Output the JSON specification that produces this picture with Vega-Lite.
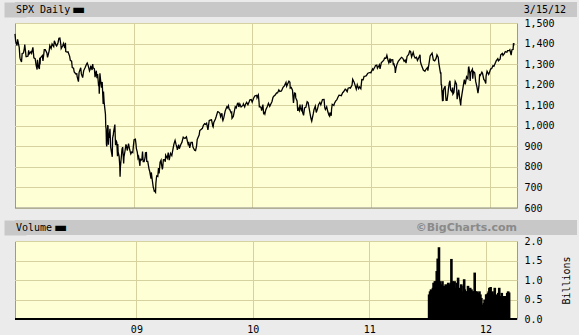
{
  "$schema": "https://vega.github.io/schema/vega-lite/v6.json",
  "background": "#ebebeb",
  "padding": {"left": 3, "top": 2, "right": 3, "bottom": 0},
  "spacing": 0,
  "config": {
    "font": "DejaVu Sans Mono",
    "axis": {"labelFont": "DejaVu Sans Mono", "labelFontSize": 10, "labelColor": "#000000", "titleFont": "DejaVu Sans Mono", "titleFontSize": 10, "titleFontWeight": "normal", "titleColor": "#000000", "gridColor": "#d6d2a0", "gridOpacity": 1, "gridWidth": 1},
    "view": {"stroke": "#9a9a9a", "fill": "#ffffd6"},
    "concat": {"spacing": 0}
  },
  "datasets": {
    "prices": [
      {"d":"2008-01-02","c":1447.2},{"d":"2008-01-04","c":1411.6},{"d":"2008-01-08","c":1390.2},{"d":"2008-01-10","c":1420.3},{"d":"2008-01-15","c":1380.9},{"d":"2008-01-17","c":1333.3},{"d":"2008-01-18","c":1325.2},{"d":"2008-01-22","c":1310.5},{"d":"2008-01-24","c":1352.1},{"d":"2008-01-28","c":1354.0},{"d":"2008-01-31","c":1378.6},{"d":"2008-02-01","c":1395.4},{"d":"2008-02-05","c":1336.6},{"d":"2008-02-07","c":1336.9},{"d":"2008-02-11","c":1339.1},{"d":"2008-02-13","c":1367.2},{"d":"2008-02-15","c":1350.0},{"d":"2008-02-20","c":1360.0},{"d":"2008-02-22","c":1353.1},{"d":"2008-02-26","c":1381.3},{"d":"2008-02-29","c":1330.6},{"d":"2008-03-04","c":1326.8},{"d":"2008-03-07","c":1293.4},{"d":"2008-03-10","c":1273.4},{"d":"2008-03-11","c":1320.7},{"d":"2008-03-14","c":1288.1},{"d":"2008-03-17","c":1276.6},{"d":"2008-03-18","c":1330.7},{"d":"2008-03-19","c":1298.4},{"d":"2008-03-20","c":1330.0},{"d":"2008-03-26","c":1341.1},{"d":"2008-03-28","c":1315.2},{"d":"2008-04-01","c":1370.2},{"d":"2008-04-04","c":1370.4},{"d":"2008-04-09","c":1354.5},{"d":"2008-04-11","c":1332.8},{"d":"2008-04-16","c":1364.7},{"d":"2008-04-18","c":1390.3},{"d":"2008-04-22","c":1375.9},{"d":"2008-04-25","c":1397.8},{"d":"2008-04-30","c":1385.6},{"d":"2008-05-02","c":1413.9},{"d":"2008-05-07","c":1392.6},{"d":"2008-05-09","c":1388.3},{"d":"2008-05-13","c":1403.0},{"d":"2008-05-16","c":1425.4},{"d":"2008-05-19","c":1426.6},{"d":"2008-05-22","c":1394.4},{"d":"2008-05-23","c":1375.9},{"d":"2008-05-28","c":1390.8},{"d":"2008-05-30","c":1400.4},{"d":"2008-06-03","c":1377.6},{"d":"2008-06-05","c":1404.1},{"d":"2008-06-06","c":1360.7},{"d":"2008-06-10","c":1358.4},{"d":"2008-06-13","c":1360.0},{"d":"2008-06-18","c":1337.8},{"d":"2008-06-20","c":1317.9},{"d":"2008-06-24","c":1314.3},{"d":"2008-06-26","c":1283.2},{"d":"2008-06-30","c":1280.0},{"d":"2008-07-02","c":1261.5},{"d":"2008-07-07","c":1252.3},{"d":"2008-07-10","c":1253.4},{"d":"2008-07-11","c":1239.5},{"d":"2008-07-15","c":1214.9},{"d":"2008-07-17","c":1260.3},{"d":"2008-07-22","c":1282.2},{"d":"2008-07-24","c":1252.5},{"d":"2008-07-28","c":1234.4},{"d":"2008-07-31","c":1267.4},{"d":"2008-08-05","c":1284.9},{"d":"2008-08-08","c":1296.3},{"d":"2008-08-11","c":1305.3},{"d":"2008-08-14","c":1292.9},{"d":"2008-08-18","c":1266.7},{"d":"2008-08-20","c":1274.5},{"d":"2008-08-22","c":1292.2},{"d":"2008-08-26","c":1271.5},{"d":"2008-08-28","c":1300.7},{"d":"2008-08-29","c":1282.8},{"d":"2008-09-02","c":1277.6},{"d":"2008-09-04","c":1236.8},{"d":"2008-09-08","c":1267.8},{"d":"2008-09-10","c":1232.0},{"d":"2008-09-12","c":1251.7},{"d":"2008-09-15","c":1192.7},{"d":"2008-09-16","c":1213.6},{"d":"2008-09-17","c":1156.4},{"d":"2008-09-18","c":1206.5},{"d":"2008-09-19","c":1255.1},{"d":"2008-09-22","c":1207.1},{"d":"2008-09-24","c":1185.9},{"d":"2008-09-26","c":1213.3},{"d":"2008-09-29","c":1106.4},{"d":"2008-09-30","c":1166.4},{"d":"2008-10-02","c":1114.3},{"d":"2008-10-03","c":1099.2},{"d":"2008-10-06","c":1056.9},{"d":"2008-10-07","c":996.2},{"d":"2008-10-08","c":984.9},{"d":"2008-10-09","c":909.9},{"d":"2008-10-10","c":899.2},{"d":"2008-10-13","c":1003.4},{"d":"2008-10-14","c":998.0},{"d":"2008-10-15","c":907.8},{"d":"2008-10-16","c":946.4},{"d":"2008-10-17","c":940.6},{"d":"2008-10-20","c":985.4},{"d":"2008-10-22","c":896.8},{"d":"2008-10-24","c":876.8},{"d":"2008-10-27","c":848.9},{"d":"2008-10-28","c":940.5},{"d":"2008-10-30","c":954.1},{"d":"2008-10-31","c":968.8},{"d":"2008-11-04","c":1005.8},{"d":"2008-11-05","c":952.8},{"d":"2008-11-06","c":904.9},{"d":"2008-11-07","c":931.0},{"d":"2008-11-10","c":919.2},{"d":"2008-11-12","c":852.3},{"d":"2008-11-13","c":911.3},{"d":"2008-11-14","c":873.3},{"d":"2008-11-17","c":850.8},{"d":"2008-11-19","c":806.6},{"d":"2008-11-20","c":752.4},{"d":"2008-11-21","c":800.0},{"d":"2008-11-24","c":851.8},{"d":"2008-11-26","c":887.7},{"d":"2008-11-28","c":896.2},{"d":"2008-12-01","c":816.2},{"d":"2008-12-02","c":848.8},{"d":"2008-12-05","c":876.1},{"d":"2008-12-08","c":909.7},{"d":"2008-12-10","c":899.2},{"d":"2008-12-12","c":879.7},{"d":"2008-12-16","c":913.2},{"d":"2008-12-19","c":887.9},{"d":"2008-12-23","c":863.2},{"d":"2008-12-26","c":872.8},{"d":"2008-12-29","c":869.4},{"d":"2008-12-31","c":903.3},
      {"d":"2009-01-02","c":931.8},{"d":"2009-01-06","c":934.7},{"d":"2009-01-08","c":909.7},{"d":"2009-01-09","c":890.4},{"d":"2009-01-12","c":870.3},{"d":"2009-01-14","c":842.6},{"d":"2009-01-16","c":850.1},{"d":"2009-01-20","c":805.2},{"d":"2009-01-21","c":840.2},{"d":"2009-01-23","c":832.0},{"d":"2009-01-26","c":836.6},{"d":"2009-01-28","c":874.1},{"d":"2009-01-30","c":825.9},{"d":"2009-02-02","c":825.4},{"d":"2009-02-05","c":845.9},{"d":"2009-02-06","c":868.6},{"d":"2009-02-09","c":869.9},{"d":"2009-02-10","c":827.2},{"d":"2009-02-13","c":826.8},{"d":"2009-02-17","c":789.2},{"d":"2009-02-19","c":778.9},{"d":"2009-02-20","c":770.1},{"d":"2009-02-23","c":743.3},{"d":"2009-02-24","c":773.1},{"d":"2009-02-27","c":735.1},{"d":"2009-03-02","c":700.8},{"d":"2009-03-03","c":696.3},{"d":"2009-03-05","c":682.6},{"d":"2009-03-06","c":683.4},{"d":"2009-03-09","c":676.5},{"d":"2009-03-10","c":719.6},{"d":"2009-03-12","c":750.7},{"d":"2009-03-13","c":756.6},{"d":"2009-03-16","c":753.9},{"d":"2009-03-18","c":794.4},{"d":"2009-03-20","c":768.5},{"d":"2009-03-23","c":822.9},{"d":"2009-03-26","c":832.9},{"d":"2009-03-27","c":815.9},{"d":"2009-03-30","c":787.5},{"d":"2009-03-31","c":797.9},{"d":"2009-04-02","c":834.4},{"d":"2009-04-06","c":835.5},{"d":"2009-04-08","c":825.2},{"d":"2009-04-09","c":856.6},{"d":"2009-04-14","c":841.5},{"d":"2009-04-17","c":869.6},{"d":"2009-04-20","c":832.4},{"d":"2009-04-24","c":866.2},{"d":"2009-04-28","c":855.2},{"d":"2009-04-30","c":872.8},{"d":"2009-05-04","c":907.2},{"d":"2009-05-06","c":919.5},{"d":"2009-05-08","c":929.2},{"d":"2009-05-11","c":909.2},{"d":"2009-05-14","c":893.1},{"d":"2009-05-15","c":882.9},{"d":"2009-05-19","c":908.1},{"d":"2009-05-21","c":888.3},{"d":"2009-05-26","c":910.3},{"d":"2009-05-29","c":919.1},{"d":"2009-06-02","c":944.7},{"d":"2009-06-05","c":940.1},{"d":"2009-06-08","c":939.1},{"d":"2009-06-12","c":946.2},{"d":"2009-06-15","c":923.7},{"d":"2009-06-17","c":910.7},{"d":"2009-06-19","c":921.2},{"d":"2009-06-22","c":893.0},{"d":"2009-06-26","c":918.9},{"d":"2009-06-30","c":919.3},{"d":"2009-07-02","c":896.4},{"d":"2009-07-07","c":881.0},{"d":"2009-07-10","c":879.1},{"d":"2009-07-13","c":901.1},{"d":"2009-07-15","c":932.7},{"d":"2009-07-17","c":940.4},{"d":"2009-07-21","c":954.6},{"d":"2009-07-23","c":976.3},{"d":"2009-07-27","c":982.2},{"d":"2009-07-31","c":987.5},{"d":"2009-08-03","c":1002.6},{"d":"2009-08-07","c":1010.5},{"d":"2009-08-10","c":1007.1},{"d":"2009-08-13","c":1012.7},{"d":"2009-08-17","c":979.7},{"d":"2009-08-21","c":1026.1},{"d":"2009-08-26","c":1028.1},{"d":"2009-08-28","c":1028.9},{"d":"2009-09-01","c":998.0},{"d":"2009-09-02","c":994.8},{"d":"2009-09-04","c":1016.4},{"d":"2009-09-09","c":1033.4},{"d":"2009-09-11","c":1042.7},{"d":"2009-09-16","c":1068.8},{"d":"2009-09-18","c":1068.3},{"d":"2009-09-23","c":1060.9},{"d":"2009-09-25","c":1044.4},{"d":"2009-09-29","c":1060.6},{"d":"2009-10-01","c":1029.9},{"d":"2009-10-02","c":1025.2},{"d":"2009-10-05","c":1040.5},{"d":"2009-10-09","c":1071.5},{"d":"2009-10-14","c":1092.0},{"d":"2009-10-16","c":1087.7},{"d":"2009-10-19","c":1097.9},{"d":"2009-10-21","c":1081.4},{"d":"2009-10-23","c":1079.6},{"d":"2009-10-27","c":1063.4},{"d":"2009-10-29","c":1066.1},{"d":"2009-10-30","c":1036.2},{"d":"2009-11-03","c":1045.4},{"d":"2009-11-06","c":1069.3},{"d":"2009-11-09","c":1093.1},{"d":"2009-11-12","c":1087.2},{"d":"2009-11-16","c":1109.3},{"d":"2009-11-18","c":1109.8},{"d":"2009-11-20","c":1091.4},{"d":"2009-11-23","c":1106.2},{"d":"2009-11-27","c":1091.5},{"d":"2009-11-30","c":1095.6},{"d":"2009-12-03","c":1099.9},{"d":"2009-12-04","c":1106.0},{"d":"2009-12-08","c":1091.9},{"d":"2009-12-11","c":1106.4},{"d":"2009-12-14","c":1114.1},{"d":"2009-12-18","c":1102.5},{"d":"2009-12-22","c":1118.0},{"d":"2009-12-24","c":1126.5},{"d":"2009-12-28","c":1127.8},{"d":"2009-12-31","c":1115.1},
      {"d":"2010-01-04","c":1133.0},{"d":"2010-01-08","c":1145.0},{"d":"2010-01-11","c":1147.0},{"d":"2010-01-14","c":1148.5},{"d":"2010-01-15","c":1136.0},{"d":"2010-01-19","c":1150.2},{"d":"2010-01-21","c":1116.5},{"d":"2010-01-22","c":1091.8},{"d":"2010-01-26","c":1092.2},{"d":"2010-01-28","c":1084.5},{"d":"2010-01-29","c":1073.9},{"d":"2010-02-02","c":1103.3},{"d":"2010-02-04","c":1063.1},{"d":"2010-02-05","c":1066.2},{"d":"2010-02-08","c":1056.7},{"d":"2010-02-11","c":1078.5},{"d":"2010-02-16","c":1094.9},{"d":"2010-02-19","c":1109.2},{"d":"2010-02-23","c":1094.6},{"d":"2010-02-26","c":1104.5},{"d":"2010-03-02","c":1118.3},{"d":"2010-03-05","c":1138.7},{"d":"2010-03-10","c":1148.0},{"d":"2010-03-12","c":1150.0},{"d":"2010-03-16","c":1159.5},{"d":"2010-03-19","c":1159.9},{"d":"2010-03-23","c":1174.2},{"d":"2010-03-26","c":1166.6},{"d":"2010-03-31","c":1169.4},{"d":"2010-04-05","c":1187.4},{"d":"2010-04-09","c":1194.4},{"d":"2010-04-14","c":1210.7},{"d":"2010-04-16","c":1192.1},{"d":"2010-04-20","c":1207.2},{"d":"2010-04-23","c":1217.3},{"d":"2010-04-26","c":1212.1},{"d":"2010-04-27","c":1183.7},{"d":"2010-04-30","c":1186.7},{"d":"2010-05-04","c":1173.6},{"d":"2010-05-06","c":1128.2},{"d":"2010-05-07","c":1110.9},{"d":"2010-05-10","c":1159.7},{"d":"2010-05-13","c":1157.4},{"d":"2010-05-14","c":1135.7},{"d":"2010-05-18","c":1120.8},{"d":"2010-05-20","c":1071.6},{"d":"2010-05-21","c":1087.7},{"d":"2010-05-25","c":1074.0},{"d":"2010-05-27","c":1103.1},{"d":"2010-05-28","c":1089.4},{"d":"2010-06-01","c":1070.7},{"d":"2010-06-03","c":1102.8},{"d":"2010-06-04","c":1064.9},{"d":"2010-06-07","c":1050.5},{"d":"2010-06-10","c":1086.8},{"d":"2010-06-14","c":1089.6},{"d":"2010-06-18","c":1117.5},{"d":"2010-06-21","c":1113.2},{"d":"2010-06-25","c":1076.8},{"d":"2010-06-29","c":1041.2},{"d":"2010-07-01","c":1027.4},{"d":"2010-07-02","c":1022.6},{"d":"2010-07-07","c":1060.3},{"d":"2010-07-09","c":1078.0},{"d":"2010-07-13","c":1095.3},{"d":"2010-07-16","c":1064.9},{"d":"2010-07-20","c":1083.5},{"d":"2010-07-23","c":1102.7},{"d":"2010-07-27","c":1113.8},{"d":"2010-07-30","c":1101.6},{"d":"2010-08-04","c":1127.2},{"d":"2010-08-09","c":1127.8},{"d":"2010-08-11","c":1089.5},{"d":"2010-08-13","c":1079.3},{"d":"2010-08-17","c":1092.5},{"d":"2010-08-20","c":1071.7},{"d":"2010-08-24","c":1051.9},{"d":"2010-08-26","c":1047.2},{"d":"2010-08-27","c":1064.6},{"d":"2010-08-31","c":1049.3},{"d":"2010-09-01","c":1080.3},{"d":"2010-09-03","c":1104.5},{"d":"2010-09-08","c":1098.9},{"d":"2010-09-10","c":1109.6},{"d":"2010-09-14","c":1121.1},{"d":"2010-09-17","c":1125.6},{"d":"2010-09-21","c":1139.8},{"d":"2010-09-24","c":1148.7},{"d":"2010-09-28","c":1147.7},{"d":"2010-10-01","c":1146.2},{"d":"2010-10-05","c":1160.8},{"d":"2010-10-08","c":1165.2},{"d":"2010-10-13","c":1178.1},{"d":"2010-10-15","c":1176.2},{"d":"2010-10-19","c":1165.9},{"d":"2010-10-22","c":1183.1},{"d":"2010-10-26","c":1185.6},{"d":"2010-10-29","c":1183.3},{"d":"2010-11-03","c":1198.0},{"d":"2010-11-05","c":1225.9},{"d":"2010-11-09","c":1213.4},{"d":"2010-11-12","c":1199.2},{"d":"2010-11-16","c":1178.3},{"d":"2010-11-19","c":1199.7},{"d":"2010-11-23","c":1180.7},{"d":"2010-11-26","c":1189.4},{"d":"2010-11-30","c":1180.6},{"d":"2010-12-03","c":1224.7},{"d":"2010-12-07","c":1223.8},{"d":"2010-12-10","c":1240.4},{"d":"2010-12-14","c":1241.6},{"d":"2010-12-17","c":1243.9},{"d":"2010-12-21","c":1254.6},{"d":"2010-12-23","c":1256.8},{"d":"2010-12-29","c":1259.8},{"d":"2010-12-31","c":1257.6},
      {"d":"2011-01-05","c":1276.6},{"d":"2011-01-07","c":1271.5},{"d":"2011-01-12","c":1286.0},{"d":"2011-01-14","c":1293.2},{"d":"2011-01-18","c":1295.0},{"d":"2011-01-20","c":1280.3},{"d":"2011-01-24","c":1290.8},{"d":"2011-01-26","c":1296.6},{"d":"2011-01-28","c":1276.3},{"d":"2011-02-01","c":1307.6},{"d":"2011-02-04","c":1310.9},{"d":"2011-02-09","c":1320.9},{"d":"2011-02-11","c":1329.2},{"d":"2011-02-15","c":1328.0},{"d":"2011-02-18","c":1343.0},{"d":"2011-02-22","c":1315.4},{"d":"2011-02-24","c":1306.1},{"d":"2011-02-28","c":1327.2},{"d":"2011-03-01","c":1306.3},{"d":"2011-03-04","c":1321.2},{"d":"2011-03-08","c":1321.8},{"d":"2011-03-10","c":1295.1},{"d":"2011-03-11","c":1304.3},{"d":"2011-03-15","c":1281.9},{"d":"2011-03-16","c":1256.9},{"d":"2011-03-18","c":1279.2},{"d":"2011-03-21","c":1298.4},{"d":"2011-03-25","c":1313.8},{"d":"2011-03-31","c":1325.8},{"d":"2011-04-04","c":1332.9},{"d":"2011-04-08","c":1328.2},{"d":"2011-04-12","c":1314.2},{"d":"2011-04-15","c":1319.7},{"d":"2011-04-18","c":1305.1},{"d":"2011-04-21","c":1337.4},{"d":"2011-04-26","c":1347.2},{"d":"2011-04-29","c":1363.6},{"d":"2011-05-02","c":1361.2},{"d":"2011-05-05","c":1335.1},{"d":"2011-05-10","c":1357.2},{"d":"2011-05-13","c":1337.8},{"d":"2011-05-16","c":1329.5},{"d":"2011-05-20","c":1333.3},{"d":"2011-05-23","c":1317.4},{"d":"2011-05-27","c":1331.1},{"d":"2011-05-31","c":1345.2},{"d":"2011-06-01","c":1314.6},{"d":"2011-06-03","c":1300.2},{"d":"2011-06-08","c":1279.6},{"d":"2011-06-10","c":1271.0},{"d":"2011-06-15","c":1265.4},{"d":"2011-06-17","c":1271.5},{"d":"2011-06-20","c":1278.4},{"d":"2011-06-23","c":1283.5},{"d":"2011-06-24","c":1268.5},{"d":"2011-06-28","c":1307.6},{"d":"2011-07-01","c":1339.7},{"d":"2011-07-07","c":1353.2},{"d":"2011-07-11","c":1319.5},{"d":"2011-07-15","c":1316.1},{"d":"2011-07-19","c":1326.7},{"d":"2011-07-22","c":1345.0},{"d":"2011-07-26","c":1331.9},{"d":"2011-07-28","c":1300.7},{"d":"2011-07-29","c":1292.3},{"d":"2011-08-02","c":1254.1},{"d":"2011-08-03","c":1260.3},{"d":"2011-08-04","c":1200.1},{"d":"2011-08-05","c":1199.4},{"d":"2011-08-08","c":1119.5},{"d":"2011-08-09","c":1172.5},{"d":"2011-08-10","c":1120.8},{"d":"2011-08-11","c":1172.6},{"d":"2011-08-12","c":1178.8},{"d":"2011-08-16","c":1192.8},{"d":"2011-08-18","c":1140.7},{"d":"2011-08-19","c":1123.5},{"d":"2011-08-22","c":1123.8},{"d":"2011-08-25","c":1159.3},{"d":"2011-08-26","c":1176.8},{"d":"2011-08-29","c":1210.1},{"d":"2011-08-31","c":1218.9},{"d":"2011-09-02","c":1174.0},{"d":"2011-09-06","c":1165.2},{"d":"2011-09-08","c":1185.9},{"d":"2011-09-09","c":1154.2},{"d":"2011-09-12","c":1162.3},{"d":"2011-09-16","c":1216.0},{"d":"2011-09-20","c":1202.1},{"d":"2011-09-22","c":1129.6},{"d":"2011-09-23","c":1136.4},{"d":"2011-09-27","c":1175.4},{"d":"2011-09-30","c":1131.4},{"d":"2011-10-03","c":1099.2},{"d":"2011-10-04","c":1124.0},{"d":"2011-10-07","c":1155.5},{"d":"2011-10-11","c":1195.5},{"d":"2011-10-14","c":1224.6},{"d":"2011-10-17","c":1200.9},{"d":"2011-10-21","c":1238.3},{"d":"2011-10-25","c":1229.1},{"d":"2011-10-27","c":1284.6},{"d":"2011-10-28","c":1285.1},{"d":"2011-10-31","c":1253.3},{"d":"2011-11-01","c":1218.3},{"d":"2011-11-03","c":1261.2},{"d":"2011-11-08","c":1275.9},{"d":"2011-11-09","c":1229.1},{"d":"2011-11-11","c":1263.9},{"d":"2011-11-15","c":1257.8},{"d":"2011-11-18","c":1216.0},{"d":"2011-11-22","c":1188.0},{"d":"2011-11-25","c":1158.7},{"d":"2011-11-28","c":1192.6},{"d":"2011-11-30","c":1247.0},{"d":"2011-12-02","c":1244.3},{"d":"2011-12-07","c":1261.0},{"d":"2011-12-09","c":1255.2},{"d":"2011-12-13","c":1225.7},{"d":"2011-12-16","c":1219.7},{"d":"2011-12-19","c":1205.4},{"d":"2011-12-20","c":1241.3},{"d":"2011-12-23","c":1265.3},{"d":"2011-12-28","c":1249.6},{"d":"2011-12-30","c":1257.6},
      {"d":"2012-01-03","c":1277.1},{"d":"2012-01-06","c":1277.8},{"d":"2012-01-10","c":1292.1},{"d":"2012-01-13","c":1289.1},{"d":"2012-01-18","c":1308.0},{"d":"2012-01-20","c":1315.4},{"d":"2012-01-25","c":1326.1},{"d":"2012-01-27","c":1316.3},{"d":"2012-02-01","c":1324.1},{"d":"2012-02-03","c":1344.9},{"d":"2012-02-08","c":1352.0},{"d":"2012-02-10","c":1342.6},{"d":"2012-02-14","c":1350.5},{"d":"2012-02-17","c":1361.2},{"d":"2012-02-22","c":1357.7},{"d":"2012-02-24","c":1365.7},{"d":"2012-02-29","c":1365.7},{"d":"2012-03-02","c":1369.6},{"d":"2012-03-06","c":1343.4},{"d":"2012-03-08","c":1365.9},{"d":"2012-03-09","c":1370.9},{"d":"2012-03-12","c":1371.1},{"d":"2012-03-13","c":1396.0},{"d":"2012-03-14","c":1394.3},{"d":"2012-03-15","c":1402.6}
    ],
    "volume": [
      {"d":"2011-07-08","v":0.63},{"d":"2011-07-11","v":0.71},{"d":"2011-07-14","v":0.76},{"d":"2011-07-18","v":0.65},{"d":"2011-07-20","v":0.80},{"d":"2011-07-22","v":0.93},{"d":"2011-07-26","v":0.97},{"d":"2011-07-29","v":0.97},{"d":"2011-08-01","v":1.23},{"d":"2011-08-04","v":1.55},{"d":"2011-08-08","v":1.84},{"d":"2011-08-11","v":0.97},{"d":"2011-08-15","v":0.89},{"d":"2011-08-17","v":0.80},{"d":"2011-08-19","v":0.97},{"d":"2011-08-23","v":0.85},{"d":"2011-08-26","v":0.76},{"d":"2011-08-29","v":0.89},{"d":"2011-09-01","v":0.80},{"d":"2011-09-06","v":0.93},{"d":"2011-09-08","v":0.85},{"d":"2011-09-12","v":0.89},{"d":"2011-09-14","v":0.93},{"d":"2011-09-16","v":1.54},{"d":"2011-09-20","v":0.97},{"d":"2011-09-23","v":0.89},{"d":"2011-09-26","v":0.97},{"d":"2011-09-29","v":0.80},{"d":"2011-10-03","v":0.93},{"d":"2011-10-05","v":0.85},{"d":"2011-10-07","v":1.06},{"d":"2011-10-11","v":0.80},{"d":"2011-10-14","v":0.76},{"d":"2011-10-17","v":0.89},{"d":"2011-10-20","v":0.71},{"d":"2011-10-24","v":0.85},{"d":"2011-10-26","v":1.02},{"d":"2011-10-28","v":0.76},{"d":"2011-11-01","v":0.71},{"d":"2011-11-04","v":0.71},{"d":"2011-11-07","v":0.85},{"d":"2011-11-10","v":0.71},{"d":"2011-11-14","v":0.80},{"d":"2011-11-16","v":0.67},{"d":"2011-11-18","v":0.76},{"d":"2011-11-22","v":0.71},{"d":"2011-11-25","v":0.71},{"d":"2011-11-28","v":1.19},{"d":"2011-12-01","v":0.71},{"d":"2011-12-05","v":0.71},{"d":"2011-12-07","v":0.63},{"d":"2011-12-09","v":0.67},{"d":"2011-12-13","v":0.71},{"d":"2011-12-16","v":0.63},{"d":"2011-12-19","v":0.54},{"d":"2011-12-22","v":0.37},{"d":"2011-12-27","v":0.41},{"d":"2011-12-29","v":0.50},{"d":"2012-01-03","v":0.63},{"d":"2012-01-05","v":0.63},{"d":"2012-01-09","v":0.67},{"d":"2012-01-11","v":0.71},{"d":"2012-01-13","v":0.80},{"d":"2012-01-17","v":0.82},{"d":"2012-01-20","v":0.67},{"d":"2012-01-23","v":0.71},{"d":"2012-01-26","v":0.63},{"d":"2012-01-30","v":0.80},{"d":"2012-02-01","v":0.59},{"d":"2012-02-03","v":0.63},{"d":"2012-02-07","v":0.54},{"d":"2012-02-10","v":0.67},{"d":"2012-02-13","v":0.80},{"d":"2012-02-16","v":0.59},{"d":"2012-02-21","v":0.67},{"d":"2012-02-23","v":0.59},{"d":"2012-02-27","v":0.54},{"d":"2012-02-29","v":0.59},{"d":"2012-03-02","v":0.59},{"d":"2012-03-06","v":0.54},{"d":"2012-03-09","v":0.67},{"d":"2012-03-12","v":0.71},{"d":"2012-03-15","v":0.68}
    ]
  },
  "vconcat": [
    {
      "width": 562, "height": 15,
      "view": {"fill": "#c8c8c8", "stroke": null},
      "data": {"values": [{"left": "SPX Daily", "right": "3/15/12"}]},
      "layer": [
        {"mark": {"type": "text", "align": "left", "baseline": "middle", "dx": 1, "fontSize": 10, "font": "DejaVu Sans Mono", "color": "#000000"},
         "encoding": {"text": {"field": "left"},
           "x": {"datum": 0, "type": "quantitative", "scale": {"domain": [0, 1]}, "axis": null},
           "y": {"datum": 0.5, "type": "quantitative", "scale": {"domain": [0, 1]},
                 "axis": {"orient": "left", "labels": false, "ticks": false, "grid": false, "title": null, "domain": true, "domainColor": "#c8c8c8", "domainWidth": 22, "domainCap": "butt"}}}},
        {"mark": {"type": "text", "align": "left", "baseline": "middle", "dx": 57, "fontSize": 14, "font": "DejaVu Sans", "text": "▬", "color": "#000000"},
         "encoding": {"x": {"datum": 0, "type": "quantitative", "scale": {"domain": [0, 1]}, "axis": null}}},
        {"mark": {"type": "text", "align": "right", "baseline": "middle", "dx": -11, "fontSize": 10, "font": "DejaVu Sans Mono", "color": "#000000"},
         "encoding": {"text": {"field": "right"}, "x": {"datum": 1, "type": "quantitative", "scale": {"domain": [0, 1]}, "axis": null}}}
      ]
    },
    {
      "width": 502, "height": 185,
      "view": {"fill": "#ffffd6", "stroke": "#9a9a9a"},
      "resolve": {"axis": {"y": "independent"}},
      "layer": [
        {"data": {"name": "prices"},
         "mark": {"type": "line", "color": "#000000", "strokeWidth": 1.3},
         "encoding": {
           "x": {"field": "d", "type": "temporal",
                 "scale": {"domain": [{"year": 2008, "month": 1, "date": 2}, {"year": 2012, "month": 3, "date": 24}]},
                 "axis": {"orient": "bottom", "labels": false, "domain": false, "ticks": true, "tickSize": 11, "tickColor": "#ebebeb", "grid": true,
                          "values": [{"year": 2009, "month": 1, "date": 1}, {"year": 2010, "month": 1, "date": 1}, {"year": 2011, "month": 1, "date": 1}, {"year": 2012, "month": 1, "date": 1}], "title": null}},
           "y": {"field": "c", "type": "quantitative",
                 "scale": {"domain": [600, 1500], "nice": false, "zero": false},
                 "axis": {"orient": "right", "values": [600, 700, 800, 900, 1000, 1100, 1200, 1300, 1400, 1500], "format": ",.0f", "ticks": false, "domain": false, "grid": true, "labelPadding": 7, "title": null}}
         }},
        {"data": {"values": [{}]},
         "mark": {"type": "rule", "color": "#8a8a8a"},
         "encoding": {"y": {"datum": 600, "type": "quantitative",
                 "axis": {"orient": "left", "labels": false, "domain": false, "grid": false, "ticks": true, "tickSize": 11, "tickColor": "#ebebeb", "title": null}}}}
      ]
    },
    {
      "width": 562, "height": 15,
      "view": {"fill": "#c8c8c8", "stroke": null},
      "data": {"values": [{"left": "Volume", "right": "©BigCharts.com"}]},
      "layer": [
        {"mark": {"type": "text", "align": "left", "baseline": "middle", "dx": 1, "fontSize": 10, "font": "DejaVu Sans Mono", "color": "#000000"},
         "encoding": {"text": {"field": "left"},
           "x": {"datum": 0, "type": "quantitative", "scale": {"domain": [0, 1]}, "axis": null},
           "y": {"datum": 0.5, "type": "quantitative", "scale": {"domain": [0, 1]},
                 "axis": {"orient": "left", "labels": false, "ticks": false, "grid": false, "title": null, "domain": true, "domainColor": "#c8c8c8", "domainWidth": 22, "domainCap": "butt"}}}},
        {"mark": {"type": "text", "align": "left", "baseline": "middle", "dx": 39, "fontSize": 14, "font": "DejaVu Sans", "text": "▬", "color": "#000000"},
         "encoding": {"x": {"datum": 0, "type": "quantitative", "scale": {"domain": [0, 1]}, "axis": null}}},
        {"mark": {"type": "text", "align": "right", "baseline": "middle", "dx": -60, "fontSize": 11, "fontWeight": "bold", "font": "DejaVu Sans", "color": "#8a8a8a"},
         "encoding": {"text": {"field": "right"}, "x": {"datum": 1, "type": "quantitative", "scale": {"domain": [0, 1]}, "axis": null}}}
      ]
    },
    {
      "width": 502, "height": 78,
      "view": {"fill": "#ffffd6", "stroke": "#9a9a9a"},
      "resolve": {"axis": {"y": "independent"}},
      "layer": [
        {"data": {"name": "volume"},
         "mark": {"type": "bar", "color": "#000000", "size": 2.6},
         "encoding": {
           "x": {"field": "d", "type": "temporal",
                 "scale": {"domain": [{"year": 2008, "month": 1, "date": 2}, {"year": 2012, "month": 3, "date": 24}]},
                 "axis": {"orient": "bottom", "format": "%y",
                          "values": [{"year": 2009, "month": 1, "date": 1}, {"year": 2010, "month": 1, "date": 1}, {"year": 2011, "month": 1, "date": 1}, {"year": 2012, "month": 1, "date": 1}],
                          "grid": true, "ticks": false, "domain": false, "labelPadding": 5, "labelFlush": false, "title": null}},
           "y": {"field": "v", "type": "quantitative",
                 "scale": {"domain": [0, 2], "nice": false},
                 "axis": {"orient": "right", "values": [0, 0.5, 1, 1.5, 2], "format": ".1f", "ticks": false, "domain": false, "grid": true, "labelPadding": 7, "title": "Billions", "titleAngle": 270, "titlePadding": 29}}
         }},
        {"data": {"values": [{}]},
         "mark": {"type": "rule", "color": "#000000", "strokeWidth": 2},
         "encoding": {"y": {"datum": 0, "type": "quantitative",
                 "axis": {"orient": "left", "labels": false, "domain": false, "grid": false, "ticks": true, "tickSize": 11, "tickColor": "#ebebeb", "title": null}}}}
      ]
    }
  ]
}
